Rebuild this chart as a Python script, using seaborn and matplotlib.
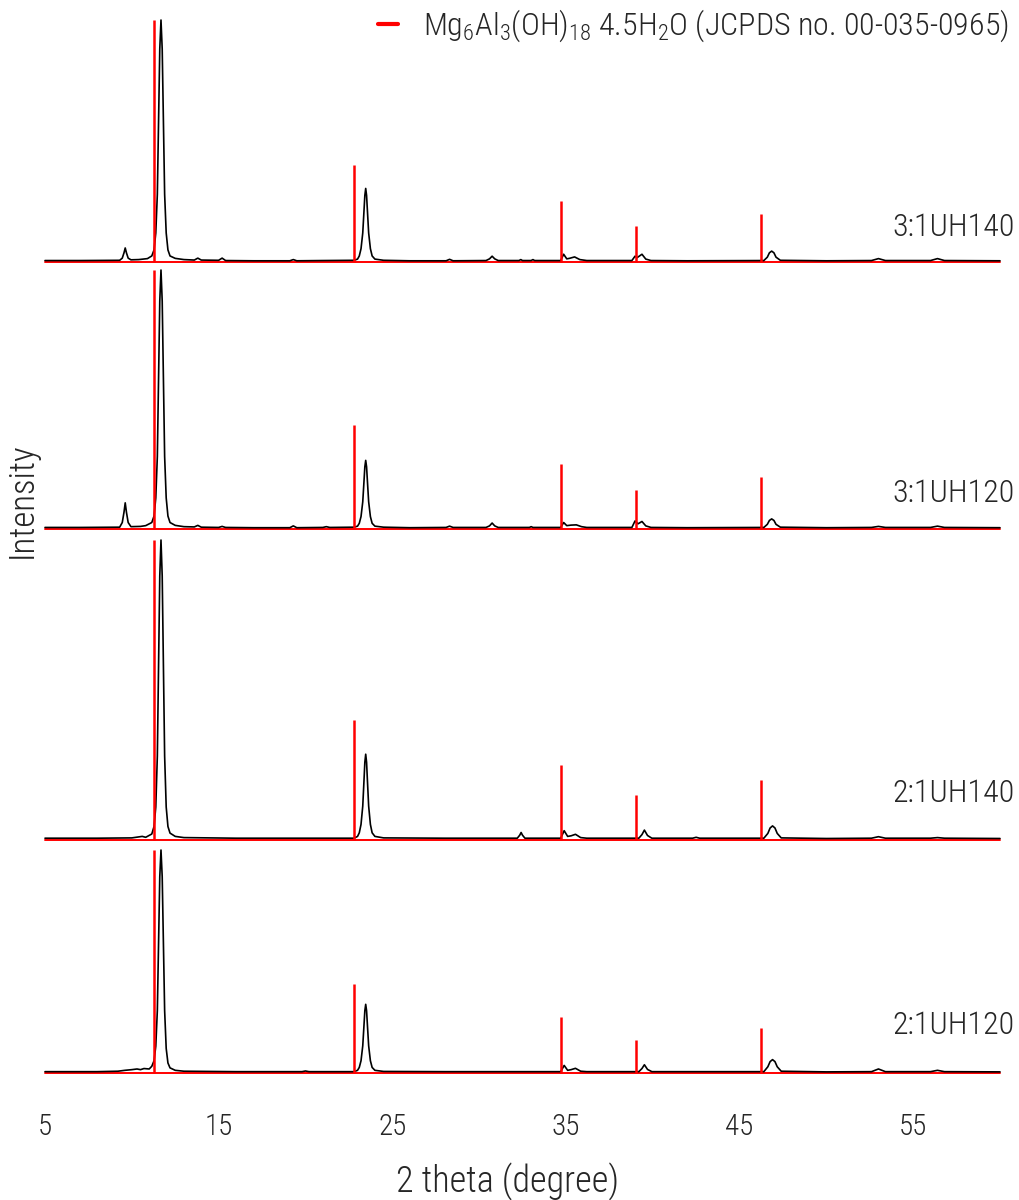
import matplotlib
matplotlib.use("Agg")
import matplotlib.pyplot as plt
import seaborn as sns
import pandas as pd
from matplotlib import font_manager as fm
from matplotlib.lines import Line2D

# ---------------- data ----------------
sample_names = ["3:1UH140", "3:1UH120", "2:1UH140", "2:1UH120"]

ref_pos = [11.3, 22.8, 34.7, 39.05, 46.25]
ref_int = [100, 40, 25, 15, 20]
ref_label = r"Mg$_{6}$Al$_{3}$(OH)$_{18}$ 4.5H$_{2}$O (JCPDS no. 00-035-0965)"

x_ticks = [5, 15, 25, 35, 45, 55]

trace_31UH140 = [(5.0, 0.6), (7.0, 0.6), (9.3, 0.7), (9.45, 1.6), (9.55, 3.8), (9.62, 5.8), (9.69, 3.8),
                 (9.79, 1.6), (9.95, 0.9), (10.4, 1.0), (10.9, 1.4), (11.15, 2.5), (11.28, 5), (11.38, 12),
                 (11.47, 28), (11.54, 58), (11.61, 88), (11.68, 100), (11.75, 88), (11.82, 58), (11.89, 28),
                 (11.98, 12), (12.08, 5), (12.2, 2.5), (12.5, 1.5), (13.0, 1.0), (13.6, 0.8), (13.8, 1.6),
                 (14.0, 0.8), (15.0, 0.7), (15.2, 1.6), (15.4, 0.6), (17.0, 0.5), (19.1, 0.5), (19.3, 1.0),
                 (19.5, 0.5), (21.0, 0.6), (22.8, 0.7), (23.0, 1.2), (23.1, 2.5), (23.2, 5.5), (23.3, 12),
                 (23.37, 21), (23.42, 27.5), (23.47, 30.4), (23.52, 27.5), (23.57, 21), (23.64, 12),
                 (23.74, 5.5), (23.84, 2.5), (24.0, 1.2), (24.5, 0.7), (26.0, 0.5), (28.1, 0.5), (28.3, 1.1),
                 (28.5, 0.5), (30.4, 0.6), (30.6, 1.3), (30.75, 2.4), (30.9, 1.3), (31.1, 0.6), (32.3, 0.6),
                 (32.4, 1.0), (32.5, 0.6), (33.0, 0.6), (33.1, 1.0), (33.2, 0.6), (34.7, 0.6), (34.87, 3.2),
                 (35.05, 1.3), (35.2, 1.5), (35.5, 2.1), (35.8, 1.0), (36.2, 0.6), (38.8, 0.6), (38.98, 2.4),
                 (39.1, 1.8), (39.38, 3.2), (39.6, 1.2), (39.9, 0.6), (42.0, 0.5), (46.4, 0.6), (46.6, 2.0),
                 (46.72, 3.8), (46.85, 4.5), (46.98, 3.8), (47.1, 2.0), (47.35, 0.7), (50.0, 0.5), (52.6, 0.6),
                 (53.0, 1.4), (53.4, 0.6), (56.0, 0.6), (56.4, 1.4), (56.8, 0.6), (60.0, 0.5)]

trace_31UH120 = [(5.0, 0.6), (7.0, 0.6), (9.3, 0.7), (9.45, 2.5), (9.55, 6.5), (9.62, 10.1), (9.69, 6.5),
                 (9.79, 2.5), (9.95, 0.9), (10.5, 1.0), (10.8, 1.3), (11.15, 2.5), (11.28, 5), (11.38, 12),
                 (11.47, 28), (11.54, 58), (11.61, 88), (11.68, 100), (11.75, 88), (11.82, 58), (11.89, 28),
                 (11.98, 12), (12.08, 5), (12.2, 2.5), (12.5, 1.4), (13.0, 0.9), (13.6, 0.8), (13.8, 1.4),
                 (14.0, 0.7), (15.0, 0.6), (15.2, 1.0), (15.4, 0.6), (17.0, 0.5), (19.1, 0.5), (19.3, 1.2),
                 (19.5, 0.5), (21.0, 0.6), (21.2, 0.9), (21.4, 0.6), (22.8, 0.7), (23.0, 1.1), (23.1, 2.2),
                 (23.2, 4.8), (23.3, 10.5), (23.37, 18.3), (23.42, 24), (23.47, 26.5), (23.52, 24),
                 (23.57, 18.3), (23.64, 10.5), (23.74, 4.8), (23.84, 2.2), (24.0, 1.1), (24.5, 0.7),
                 (26.0, 0.5), (28.1, 0.6), (28.3, 1.1), (28.5, 0.6), (30.4, 0.6), (30.6, 1.2), (30.75, 2.3),
                 (30.9, 1.2), (31.1, 0.6), (32.9, 0.6), (33.0, 0.9), (33.1, 0.6), (34.7, 0.6), (34.87, 2.5),
                 (35.05, 1.3), (35.3, 1.5), (35.6, 1.6), (35.9, 0.9), (36.2, 0.6), (38.8, 0.6), (38.98, 3.1),
                 (39.15, 2.0), (39.38, 2.9), (39.6, 1.2), (39.9, 0.6), (42.0, 0.5), (46.4, 0.6), (46.6, 1.8),
                 (46.72, 3.3), (46.85, 3.9), (46.98, 3.3), (47.1, 1.8), (47.35, 0.7), (50.0, 0.5), (52.6, 0.6),
                 (53.0, 1.0), (53.4, 0.6), (56.0, 0.6), (56.4, 1.1), (56.8, 0.6), (60.0, 0.5)]

trace_21UH140 = [(5.0, 0.6), (8.0, 0.6), (10.0, 0.7), (10.6, 1.2), (10.8, 0.9), (11.15, 2.0), (11.28, 4.5),
                 (11.38, 11), (11.47, 28), (11.54, 58), (11.61, 88), (11.68, 100), (11.75, 88), (11.82, 58),
                 (11.89, 28), (11.98, 11), (12.08, 4.5), (12.2, 2.3), (12.5, 1.2), (13.0, 0.8), (16.0, 0.6),
                 (20.0, 0.6), (22.8, 0.6), (23.0, 1.2), (23.1, 2.4), (23.2, 5.2), (23.3, 11.3), (23.37, 19.7),
                 (23.42, 25.9), (23.47, 28.6), (23.52, 25.9), (23.57, 19.7), (23.64, 11.3), (23.74, 5.2),
                 (23.84, 2.4), (24.0, 1.2), (24.5, 0.7), (28.0, 0.6), (32.2, 0.6), (32.34, 1.6), (32.42, 2.5),
                 (32.5, 1.6), (32.64, 0.6), (34.7, 0.6), (34.9, 3.1), (35.1, 1.2), (35.3, 1.4), (35.55, 1.9),
                 (35.85, 0.8), (36.2, 0.6), (39.2, 0.6), (39.38, 1.8), (39.52, 3.3), (39.7, 1.5), (39.95, 0.6),
                 (42.3, 0.6), (42.5, 0.9), (42.7, 0.6), (46.4, 0.6), (46.63, 2.2), (46.76, 4.0), (46.9, 4.7),
                 (47.04, 4.0), (47.17, 2.2), (47.4, 0.7), (50.0, 0.5), (52.6, 0.6), (53.0, 1.1), (53.4, 0.6),
                 (56.0, 0.6), (56.4, 0.8), (56.8, 0.6), (60.0, 0.5)]

trace_21UH120 = [(5.0, 0.6), (8.0, 0.6), (9.2, 0.8), (9.6, 1.2), (10.0, 1.5), (10.3, 1.8), (10.5, 1.5),
                 (10.7, 2.0), (11.0, 1.8), (11.15, 3), (11.28, 5.5), (11.38, 12), (11.47, 28), (11.54, 58),
                 (11.61, 88), (11.68, 100), (11.75, 88), (11.82, 58), (11.89, 28), (11.98, 11), (12.08, 4.5),
                 (12.2, 2.3), (12.5, 1.2), (13.0, 0.8), (16.0, 0.6), (19.8, 0.6), (20.0, 0.9), (20.2, 0.6),
                 (22.8, 0.6), (23.0, 1.2), (23.1, 2.5), (23.2, 5.5), (23.3, 12.2), (23.37, 21.3), (23.42, 27.9),
                 (23.47, 30.8), (23.52, 27.9), (23.57, 21.3), (23.64, 12.2), (23.74, 5.5), (23.84, 2.5),
                 (24.0, 1.2), (24.5, 0.7), (28.0, 0.6), (34.7, 0.6), (34.9, 3.4), (35.1, 1.2), (35.3, 1.5),
                 (35.55, 2.1), (35.85, 0.8), (36.2, 0.6), (39.2, 0.6), (39.38, 2.0), (39.52, 3.7), (39.7, 1.6),
                 (39.95, 0.6), (46.4, 0.6), (46.63, 2.8), (46.76, 5.1), (46.9, 6.0), (47.04, 5.1), (47.17, 2.8),
                 (47.4, 0.8), (50.0, 0.5), (52.6, 0.6), (53.0, 1.8), (53.4, 0.6), (56.0, 0.6), (56.4, 1.2),
                 (56.8, 0.6), (60.0, 0.5)]

traces = [trace_31UH140, trace_31UH120, trace_21UH140, trace_21UH120]

# ---------------- style ----------------
sns.set_theme(style="white")
names = {f.name for f in fm.fontManager.ttflist}
cands = ["Liberation Sans Narrow", "DejaVu Sans Condensed", "Roboto Condensed", "Lato", "DejaVu Sans"]
font = next(c for c in cands if c in names)
plt.rcParams["font.family"] = [font, "DejaVu Sans"]
plt.rcParams["font.weight"] = "light"
plt.rcParams["mathtext.fontset"] = "custom"
plt.rcParams["mathtext.rm"] = font + ":light"
plt.rcParams["mathtext.it"] = font + ":light"
plt.rcParams["mathtext.bf"] = font

W, H = 1019, 1200
fig = plt.figure(figsize=(W / 100, H / 100), dpi=100)

left_px, right_px = 45, 1000
panel_px = [(20, 262), (270, 529), (540, 840), (850, 1073)]   # (top, baseline) in pixels
label_y_px = [228, 493, 793, 1025]
FS = 22

for i, ((top, base), trace, name) in enumerate(zip(panel_px, traces, sample_names)):
    ax = fig.add_axes([left_px / W, 1 - base / H, (right_px - left_px) / W, (base - top) / H])
    df = pd.DataFrame(trace, columns=["two_theta", "intensity"])
    ax.axhline(0, color="red", lw=1.4, zorder=1, clip_on=False)
    sns.lineplot(data=df, x="two_theta", y="intensity", ax=ax, color="black", lw=1.2,
                 estimator=None, sort=False, zorder=2)
    ax.lines[-1].set_clip_on(False)
    vl = ax.vlines(ref_pos, 0, ref_int, colors="red", lw=1.8, zorder=3)
    vl.set_clip_on(False)
    ax.set_xlim(5, 60)
    ax.set_ylim(0, 100)
    ax.set_yticks([])
    ax.set_xlabel("")
    ax.set_ylabel("")
    sns.despine(ax=ax, left=True, bottom=True)
    if i < 3:
        ax.set_xticks([])
    else:
        ax.set_xticks(x_ticks)
        ax.set_xticklabels([str(t) for t in x_ticks])
        ax.tick_params(axis="x", length=0, pad=29, labelsize=FS - 1)
    fig.text(1015 / W, 1 - label_y_px[i] / H, name, ha="right", va="center", fontsize=FS + 1)

fig.text(507 / W, 1 - 1182 / H, "2 theta (degree)", ha="center", va="center", fontsize=FS + 4)
fig.text(22 / W, 1 - 500 / H, "Intensity", ha="center", va="center", rotation=90, fontsize=FS + 3)

fig.legend(handles=[Line2D([0], [0], color="red", lw=3)], labels=[ref_label],
           loc="upper right", bbox_to_anchor=(1009 / W, 1 - 8 / H), frameon=False,
           handlelength=0.6, handletextpad=0.8, borderpad=0, borderaxespad=0, fontsize=FS + 1)

fig.savefig("out.png", dpi=100)
